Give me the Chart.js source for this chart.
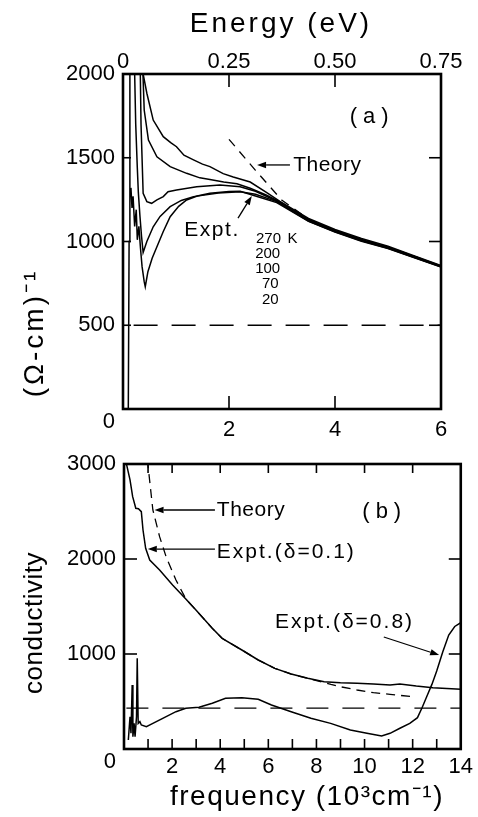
<!DOCTYPE html>
<html><head><meta charset="utf-8">
<script src="https://cdn.jsdelivr.net/npm/chart.js@4.4.0/dist/chart.umd.min.js"></script>
<style>
html,body{margin:0;padding:0;background:#fff;width:478px;height:817px;overflow:hidden}
canvas{position:absolute;left:0;top:0}
</style></head><body>
<canvas id="c1" width="478" height="817"></canvas>
<canvas id="c2" width="478" height="817"></canvas>
<script>
// ---------- panel (a): frequency (10^3 cm^-1) vs conductivity ----------
const k270F = [0.36, 0.38, 0.45, 0.57, 0.76, 0.90, 1.01, 1.15, 1.33, 1.50, 1.64, 1.89, 2.08, 2.40, 2.72, 2.96, 3.50, 4.00, 4.50, 5.00, 5.50, 6.00];
const k270S = [2150, 2000, 1885, 1725, 1626, 1590, 1566, 1515, 1487, 1462, 1447, 1405, 1385, 1355, 1290, 1240, 1138, 1072, 1018, 972, 914, 856];
const k200F = [0.36, 0.40, 0.48, 0.64, 0.89, 1.20, 1.45, 1.64, 1.90, 2.15, 2.40, 2.70, 2.96, 3.50, 4.00, 4.50, 5.00, 5.50, 6.00];
const k200S = [2150, 1785, 1606, 1506, 1447, 1407, 1380, 1370, 1355, 1345, 1318, 1278, 1236, 1132, 1066, 1012, 966, 910, 853];
const k100F = [0.32, 0.34, 0.38, 0.45, 0.54, 0.64, 0.76, 0.85, 1.01, 1.39, 1.83, 2.21, 2.50, 2.90, 3.50, 4.00, 4.50, 5.00, 5.50, 6.00];
const k100S = [2150, 1700, 1288, 1238, 1228, 1248, 1268, 1297, 1307, 1327, 1337, 1327, 1300, 1242, 1128, 1062, 1008, 962, 906, 850];
const k70F = [0.21, 0.24, 0.27, 0.29, 0.32, 0.35, 0.38, 0.45, 0.57, 0.70, 0.89, 1.10, 1.33, 1.80, 2.21, 2.50, 2.90, 3.50, 4.00, 4.50, 5.00, 5.50, 6.00];
const k70S = [2150, 1700, 1440, 1290, 1150, 1030, 935, 1000, 1088, 1150, 1208, 1245, 1268, 1290, 1297, 1282, 1238, 1122, 1058, 1004, 960, 904, 849];
const k20F = [0.10, 0.115, 0.13, 0.13, 0.15, 0.17, 0.19, 0.22, 0.25, 0.27, 0.30, 0.33, 0.36, 0.40, 0.42, 0.47, 0.55, 0.64, 0.76, 0.89, 1.05, 1.20, 1.40, 1.64, 2.00, 2.21, 2.50, 2.90, 3.50, 4.00, 4.50, 5.00, 5.50, 6.00];
const k20S = [0, 1000, 2150, null, 1320, 1200, 1270, 1090, 1190, 1010, 1090, 960, 850, 760, 730, 820, 900, 969, 1060, 1148, 1210, 1248, 1272, 1288, 1298, 1300, 1272, 1232, 1120, 1056, 1002, 958, 903, 848];
const topTheoryF = [2.0, 2.5, 3.0, 3.5, 4.0, 4.5, 5.0, 5.5, 6.0];
const topTheoryS = [1610, 1425, 1246, 1134, 1068, 1014, 968, 911, 853];
const topRefF = [0.2, 6.0];
const topRefS = [500, 500];
const topTempLabels = ['270', '200', '100', '70', '20'];

// ---------- panel (b) ----------
const b01F = [0.11, 0.25, 0.36, 0.49, 0.60, 0.72, 0.79, 0.90, 1.07, 1.48, 2.02, 2.57, 3.00, 3.67, 4.08, 4.90, 5.58, 6.27, 6.95, 7.64, 8.32, 9.00, 9.69, 10.37, 11.06, 11.47, 12.15, 12.84, 14.00];
const b01S = [2990, 2832, 2656, 2534, 2530, 2498, 2305, 2112, 1989, 1884, 1726, 1580, 1460, 1270, 1165, 1042, 937, 849, 789, 744, 709, 698, 691, 684, 674, 684, 663, 646, 628];
const bTheoryF = [0.97, 1.20, 1.48, 1.75, 2.16, 2.57, 3.00, 3.67, 4.08, 4.90, 5.58, 6.27, 6.95, 7.64, 8.32, 8.60, 9.00, 9.69, 10.37, 11.06, 12.00];
const bTheoryS = [3050, 2516, 2235, 2024, 1779, 1580, 1460, 1270, 1165, 1042, 937, 849, 789, 744, 700, 680, 655, 621, 593, 575, 551];
const b08F = [0.18, 0.25, 0.29, 0.34, 0.37, 0.42, 0.46, 0.52, 0.55, 0.59, 0.66, 0.72, 0.93, 1.20, 1.61, 2.16, 2.57, 3.12, 3.67, 4.22, 4.90, 5.58, 6.13, 6.95, 7.77, 8.59, 9.41, 10.10, 10.71, 11.06, 11.47, 11.88, 12.20, 12.40, 12.60, 12.80, 13.00, 13.25, 13.50, 13.75, 14.00];
const b08S = [95, 340, 165, 674, 130, 270, 130, 340, 954, 270, 288, 253, 235, 270, 323, 393, 428, 439, 481, 533, 540, 523, 463, 393, 323, 270, 200, 165, 137, 165, 218, 270, 330, 440, 560, 680, 820, 1020, 1200, 1290, 1330];
const bRefF = [0.1, 14.0];
const bRefS = [430, 430];

Chart.defaults.font.family = "'Liberation Sans', Arial, sans-serif";
Chart.defaults.color = '#000';

function pts(F, S) { return F.map((x, i) => ({ x: x, y: S[i] })); }
function line(F, S, extra) {
  return Object.assign({ data: pts(F, S), showLine: true, pointRadius: 0, borderColor: '#000',
    borderWidth: 1.5, fill: false, tension: 0, spanGaps: false }, extra || {});
}

const decor = {
  id: 'decor',
  afterDraw(chart, args, o) {
    const ctx = chart.ctx, a = chart.chartArea, xs = chart.scales.x, ys = chart.scales.y;
    const ts = o.topId ? chart.scales[o.topId] : xs;
    ctx.save();
    ctx.strokeStyle = '#000'; ctx.fillStyle = '#000';
    ctx.lineWidth = 2.6;
    ctx.strokeRect(a.left, a.top, a.right - a.left, a.bottom - a.top);
    ctx.lineWidth = 1.6;
    const seg = (x1, y1, x2, y2) => { ctx.beginPath(); ctx.moveTo(x1, y1); ctx.lineTo(x2, y2); ctx.stroke(); };
    o.ticks.left.forEach(v => { const p = ys.getPixelForValue(v); seg(a.left, p, a.left + o.len.left, p); });
    o.ticks.right.forEach(v => { const p = ys.getPixelForValue(v); seg(a.right, p, a.right - o.len.right, p); });
    o.ticks.top.forEach(v => { const p = ts.getPixelForValue(v); seg(p, a.top, p, a.top + o.len.top); });
    o.ticks.bottom.forEach(v => { const p = xs.getPixelForValue(v); seg(p, a.bottom, p, a.bottom - o.len.bottom); });
    // arrows
    ctx.lineWidth = 1.3;
    o.arrows.forEach(r => {
      const x1 = xs.getPixelForValue(r.x1), y1 = ys.getPixelForValue(r.y1);
      const x2 = xs.getPixelForValue(r.x2), y2 = ys.getPixelForValue(r.y2);
      const ang = Math.atan2(y2 - y1, x2 - x1), L = 9, W = 3.2;
      const bx = x2 - L * Math.cos(ang), by = y2 - L * Math.sin(ang);
      seg(x1, y1, bx, by);
      ctx.beginPath(); ctx.moveTo(x2, y2);
      ctx.lineTo(bx + W * Math.sin(ang), by - W * Math.cos(ang));
      ctx.lineTo(bx - W * Math.sin(ang), by + W * Math.cos(ang));
      ctx.closePath(); ctx.fill();
    });
    const put = (t, px, py, size, sp, align, rot) => {
      ctx.save();
      ctx.font = size + "px 'Liberation Sans', Arial, sans-serif";
      ctx.letterSpacing = (sp || 0) + 'px';
      ctx.textAlign = align || 'left'; ctx.textBaseline = 'middle';
      ctx.translate(px, py); if (rot) ctx.rotate(rot);
      ctx.fillText(t, 0, 0);
      ctx.restore();
    };
    o.texts.forEach(r => put(r.t, xs.getPixelForValue(r.x), ys.getPixelForValue(r.y), r.size, r.sp, r.align));
    o.titles.forEach(r => put(r.t, r.px, r.py, r.size, r.sp, 'center', r.rot));
    ctx.restore();
  }
};

const hideGrid = { display: false, drawTicks: false };
const noBorder = { display: false };

new Chart(document.getElementById('c1'), {
  type: 'scatter',
  data: { datasets: [
    line(k270F, k270S), line(k200F, k200S), line(k100F, k100S), line(k70F, k70S), line(k20F, k20S),
    line(topTheoryF, topTheoryS, { borderDash: [9, 7], borderWidth: 1.3 }),
    line(topRefF, topRefS, { borderDash: [24, 14], borderWidth: 1.3 })
  ] },
  options: {
    responsive: false, animation: false, events: [],
    layout: { padding: { left: 0, top: 0, right: 37, bottom: 0 } },
    plugins: { legend: { display: false }, tooltip: { enabled: false },
      decor: {
        topId: 'xE',
        ticks: { left: [500, 1000, 1500], right: [500, 1000, 1500], top: [0.25, 0.5], bottom: [2, 4] },
        len: { left: 8, right: 12, top: 13, bottom: 13 },
        texts: [
          { t: '(a)', x: 4.70, y: 1743, size: 22, sp: 6, align: 'center' },
          { t: 'Theory', x: 3.21, y: 1457, size: 21, sp: 0.5 },
          { t: 'Expt.', x: 1.68, y: 1069, size: 21, sp: 1.5, align: 'center' },
          { t: topTempLabels[0], x: 2.745, y: 1017, size: 15, align: 'center' },
          { t: 'K', x: 3.2, y: 1017, size: 15, align: 'center' },
          { t: topTempLabels[1], x: 2.73, y: 925, size: 15, align: 'center' },
          { t: topTempLabels[2], x: 2.73, y: 836, size: 15, align: 'center' },
          { t: topTempLabels[3], x: 2.78, y: 746, size: 15, align: 'center' },
          { t: topTempLabels[4], x: 2.78, y: 651, size: 15, align: 'center' }
        ],
        arrows: [ { x1: 3.15, y1: 1457, x2: 2.53, y2: 1457 }, { x1: 2.17, y1: 1140, x2: 2.43, y2: 1272 } ],
        titles: [
          { t: 'Energy (eV)', px: 281, py: 24, size: 28, sp: 3 },
          { t: '(Ω-cm)⁻¹', px: 35, py: 333, size: 28, sp: 3, rot: -Math.PI / 2 }
        ]
      } },
    scales: {
      x: { type: 'linear', position: 'bottom', min: 0, max: 6, afterFit: s => { s.height = 408; },
        grid: hideGrid, border: noBorder,
        ticks: { stepSize: 2, padding: 8, font: { size: 22 }, maxRotation: 0, autoSkip: false, callback: v => v === 0 ? '' : String(v) } },
      xE: { type: 'linear', position: 'top', min: 0, max: 0.75, afterFit: s => { s.height = 74; },
        grid: hideGrid, border: noBorder,
        ticks: { stepSize: 0.25, padding: -1, font: { size: 22 }, maxRotation: 0, autoSkip: false, callback: v => v === 0 ? '0' : v.toFixed(2) } },
      y: { type: 'linear', min: 0, max: 2000, afterFit: s => { s.width = 123; },
        grid: hideGrid, border: noBorder,
        ticks: { stepSize: 500, padding: 8, font: { size: 22 }, callback: v => v === 0 ? ['', '0'] : String(v) } }
    }
  },
  plugins: [decor]
});

new Chart(document.getElementById('c2'), {
  type: 'scatter',
  data: { datasets: [
    line(b01F, b01S), line(b08F, b08S),
    line(bTheoryF, bTheoryS, { borderDash: [9, 6], borderWidth: 1.3 }),
    line(bRefF, bRefS, { borderDash: [22, 14], borderWidth: 1.3 })
  ] },
  options: {
    responsive: false, animation: false, events: [],
    layout: { padding: { left: 0, top: 464, right: 13, bottom: 0 } },
    plugins: { legend: { display: false }, tooltip: { enabled: false },
      decor: {
        ticks: { left: [1000, 2000], right: [1000, 2000], top: [1, 2, 4, 6, 8, 10, 12], bottom: [1, 2, 3, 4, 5, 6, 7, 8, 9, 10, 11, 12, 13] },
        len: { left: 13, right: 12, top: 9, bottom: 10 },
        texts: [
          { t: '(b)', x: 10.84, y: 2495, size: 22, sp: 6, align: 'center' },
          { t: 'Theory', x: 3.86, y: 2516, size: 21, sp: 0.5 },
          { t: 'Expt.(δ=0.1)', x: 3.86, y: 2074, size: 21, sp: 2 },
          { t: 'Expt.(δ=0.8)', x: 6.28, y: 1337, size: 21, sp: 2 }
        ],
        arrows: [ { x1: 3.78, y1: 2516, x2: 1.27, y2: 2516 }, { x1: 3.78, y1: 2105, x2: 0.99, y2: 2105 },
                  { x1: 10.80, y1: 1179, x2: 13.10, y2: 989 } ],
        titles: [
          { t: 'frequency (10³cm⁻¹)', px: 307, py: 797, size: 28, sp: 1.5 },
          { t: 'conductivity', px: 35, py: 623, size: 26, sp: 0.5, rot: -Math.PI / 2 }
        ]
      } },
    scales: {
      x: { type: 'linear', position: 'bottom', min: 0, max: 14, afterFit: s => { s.height = 68; },
        grid: hideGrid, border: noBorder,
        ticks: { stepSize: 2, padding: 5, font: { size: 22 }, maxRotation: 0, autoSkip: false, callback: v => v === 0 ? '' : String(v) } },
      y: { type: 'linear', min: 0, max: 3000, afterFit: s => { s.width = 124; },
        grid: hideGrid, border: noBorder,
        ticks: { stepSize: 1000, padding: 8, font: { size: 22 }, callback: v => v === 0 ? ['', '0'] : String(v) } }
    }
  },
  plugins: [decor]
});
</script>
</body></html>
